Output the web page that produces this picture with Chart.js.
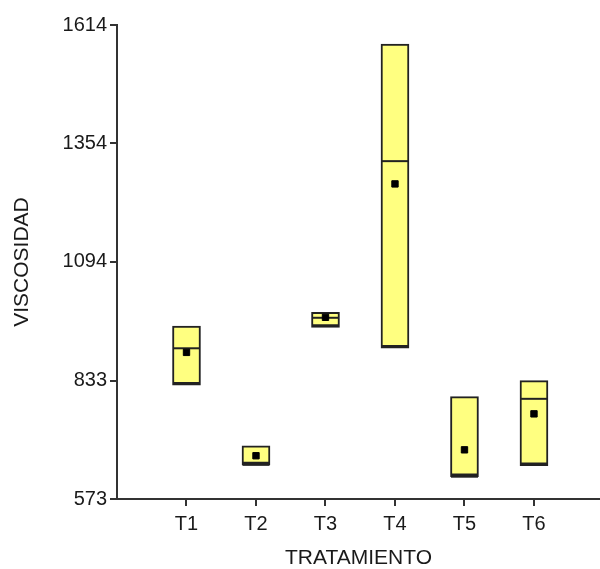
<!DOCTYPE html>
<html>
<head>
<meta charset="utf-8">
<script src="https://cdn.jsdelivr.net/npm/chart.js@4"></script>
<style>
  html, body { margin: 0; padding: 0; background: #fff; }
  #wrap { width: 600px; height: 569px; }
</style>
</head>
<body>
<div id="wrap"><canvas id="grafico" width="600" height="569"></canvas></div>
<script>
// tratamientos y valores
const categorias = ['T1', 'T2', 'T3', 'T4', 'T5', 'T6'];
const cajaInf = [823, 648, 950, 904, 622, 646];
const cajaSup = [953, 690, 983, 1572, 798, 833];
const medianas = [904, 648, 971, 1315, 622, 793];
const medias = [895, 668, 972, 1265, 681, 760];
const ticksY = [573, 833, 1094, 1354, 1614];

const negro = '#222222';
const amarillo = '#ffff80';
const fuente = "'Liberation Sans', Arial, sans-serif";

const posX = categorias.map((c, i) => i + 1);

const datosCajas = posX.map((x, i) => ({ x: x, y: [cajaInf[i], cajaSup[i]] }));
const datosMedianas = posX.map((x, i) => ({ x: x, y: medianas[i] }));
const datosMedias = posX.map((x, i) => ({ x: x, y: medias[i] }));

new Chart(document.getElementById('grafico'), {
    type: 'bar',
    data: {
        datasets: [
            {
                // media: cuadrado negro
                type: 'scatter',
                data: datosMedias,
                pointStyle: 'rect',
                pointRadius: 4.5,
                backgroundColor: '#000',
                borderColor: '#000',
                borderWidth: 1,
                order: 1
            },
            {
                // mediana: linea horizontal
                type: 'scatter',
                data: datosMedianas,
                pointStyle: 'line',
                pointRadius: 13.5,
                borderColor: negro,
                borderWidth: 2,
                order: 2
            },
            {
                // cajas
                type: 'bar',
                data: datosCajas,
                backgroundColor: amarillo,
                borderColor: negro,
                borderWidth: { top: 2, left: 2, right: 2, bottom: 3.5 },
                borderSkipped: false,
                barThickness: 28,
                order: 3
            }
        ]
    },
    options: {
        responsive: false,
        animation: false,
        layout: {
            autoPadding: false, // si no, el radio de la mediana mete margen
            padding: { top: 25, right: 0, bottom: 0, left: 0 }
        },
        plugins: {
            legend: { display: false },
            tooltip: { enabled: false }
        },
        scales: {
            x: {
                type: 'linear',
                min: 0,
                max: 6.95,
                offset: false,
                afterBuildTicks: (scale) => {
                    scale.ticks = posX.map(v => ({ value: v }));
                },
                afterFit: (scale) => {
                    scale.height = 70;
                    scale.paddingLeft = 0;
                    scale.paddingRight = 0;
                },
                ticks: {
                    callback: (v) => categorias[v - 1],
                    color: '#1a1a1a',
                    font: { family: fuente, size: 20 },
                    padding: 6,
                    autoSkip: false,
                    maxRotation: 0
                },
                grid: {
                    offset: false,
                    drawOnChartArea: false,
                    drawTicks: true,
                    tickLength: 7,
                    color: '#333',
                    lineWidth: 2
                },
                border: { display: true, color: '#333', width: 2 },
                title: {
                    display: true,
                    text: 'TRATAMIENTO',
                    color: '#1a1a1a',
                    font: { family: fuente, size: 21, lineHeight: 1 },
                    padding: { top: 0, bottom: 0 }
                }
            },
            y: {
                type: 'linear',
                min: 573,
                max: 1614,
                afterBuildTicks: (scale) => {
                    scale.ticks = ticksY.map(v => ({ value: v }));
                },
                afterFit: (scale) => { scale.width = 117; },
                ticks: {
                    callback: (v) => String(v),
                    color: '#1a1a1a',
                    font: { family: fuente, size: 20 },
                    padding: 3
                },
                grid: {
                    drawOnChartArea: false,
                    drawTicks: true,
                    tickLength: 7,
                    color: '#333',
                    lineWidth: 2
                },
                border: { display: true, color: '#333', width: 2 },
                title: {
                    display: true,
                    text: 'VISCOSIDAD',
                    color: '#1a1a1a',
                    font: { family: fuente, size: 21, lineHeight: 1 },
                    padding: { top: 12, bottom: 0 }
                }
            }
        }
    }
});
</script>
</body>
</html>
